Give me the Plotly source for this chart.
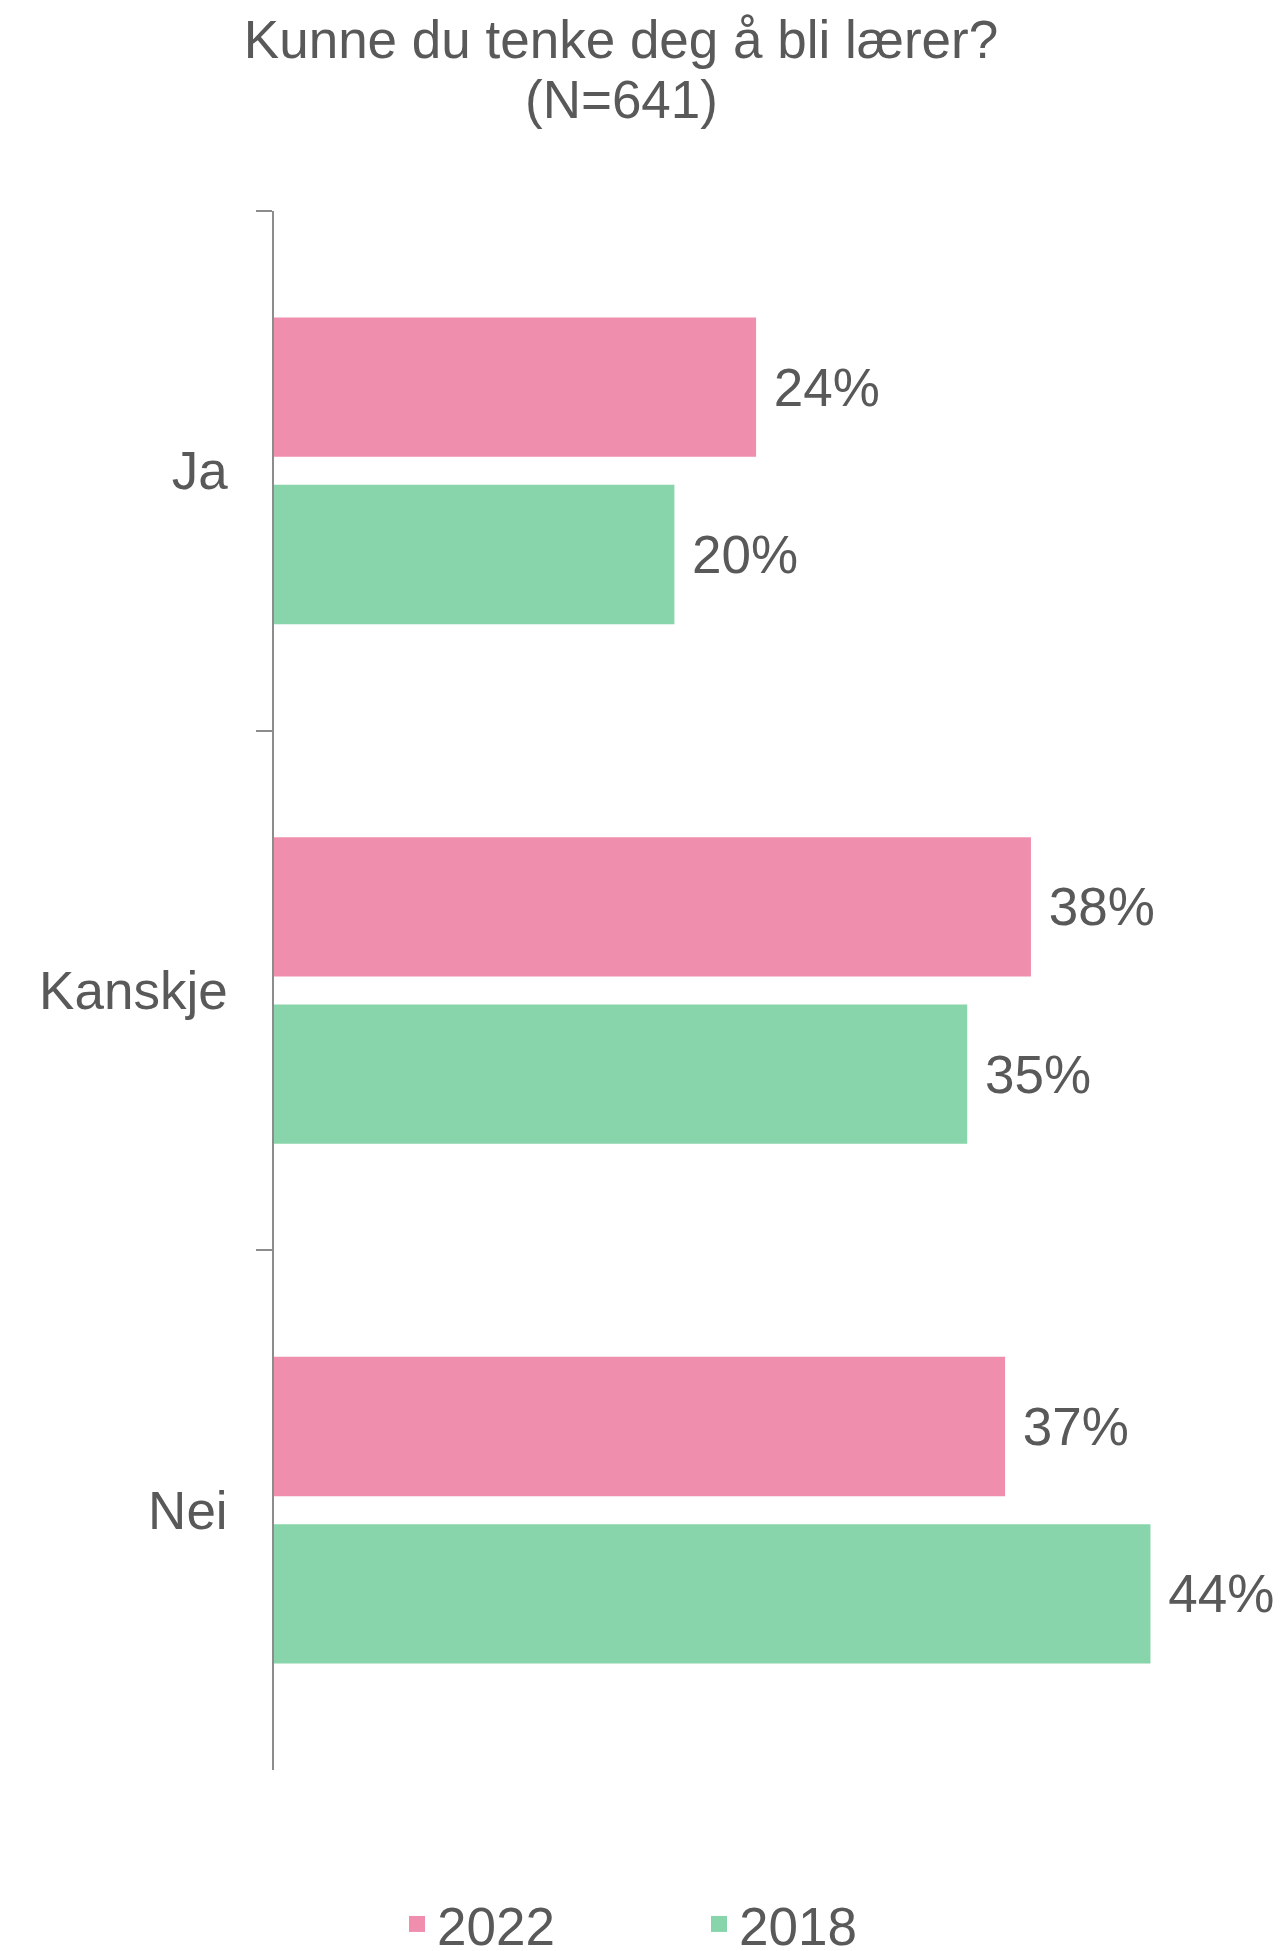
import plotly.graph_objects as go

categories = ["Ja", "Kanskje", "Nei"]
series_names = ["2022", "2018"]
values_2022 = [24.2, 38.0, 36.7]
values_2018 = [20.1, 34.8, 44.0]
colors = ["#F08EAD", "#88D4AB"]
title_line1 = "Kunne du tenke deg å bli lærer?"
title_line2 = "(N=641)"

FONT = "Liberation Sans, Arial, sans-serif"
TXT = "#595959"
FS = 53

W, H = 1273, 1943  # page body adds an 8px offset
L, T, PW, PH = 266, 203, 996, 1559

fig = go.Figure()
for name, vals, col in zip(series_names, [values_2022, values_2018], colors):
    fig.add_trace(go.Bar(
        y=categories, x=vals, name=name, orientation="h",
        marker=dict(color=col, line=dict(width=0)),
        texttemplate=" %{x:.0f}%", textposition="outside",
        textfont=dict(family=FONT, size=FS, color=TXT),
        cliponaxis=False, constraintext="none", showlegend=False,
    ))
# legend entries with larger square swatches
for name, col in zip(series_names, colors):
    fig.add_trace(go.Scatter(
        x=[None], y=[None], mode="markers", name=name,
        marker=dict(symbol="square", size=16, color=col),
        showlegend=True,
    ))

fig.add_annotation(
    text=title_line2, xref="paper", yref="paper",
    x=(613 - L) / PW, y=1 + (T - 91.5) / PH,
    xanchor="center", yanchor="middle", showarrow=False,
    font=dict(family=FONT, size=FS, color=TXT),
)

fig.update_layout(
    width=W, height=H,
    paper_bgcolor="white", plot_bgcolor="white",
    margin=dict(l=L, r=W - L - PW, t=T, b=H - T - PH),
    barmode="group", bargap=0.356, bargroupgap=0.167,
    font=dict(family=FONT, size=FS, color=TXT),
    title=dict(
        text=title_line1,
        x=613/W, xanchor="center", xref="container",
        y=1-31/H, yanchor="middle", yref="container",
        font=dict(family=FONT, size=FS, color=TXT),
    ),
    xaxis=dict(range=[0, 50], visible=False, showgrid=False, zeroline=False),
    yaxis=dict(
        autorange="reversed", type="category",
        showline=True, linecolor="#8C8C8C", linewidth=1.5,
        ticks="outside", tickson="boundaries", ticklen=16,
        tickcolor="#8C8C8C", tickwidth=1.5,
        ticklabelstandoff=34, showgrid=False, zeroline=False,
        tickfont=dict(family=FONT, size=FS, color=TXT),
    ),
    legend=dict(
        orientation="h", xref="container", yref="container",
        x=389/W, xanchor="left", y=1-1916/H, yanchor="middle",
        font=dict(family=FONT, size=FS, color=TXT),
        entrywidth=257, traceorder="normal",
    ),
)

fig.write_html("out.html")
